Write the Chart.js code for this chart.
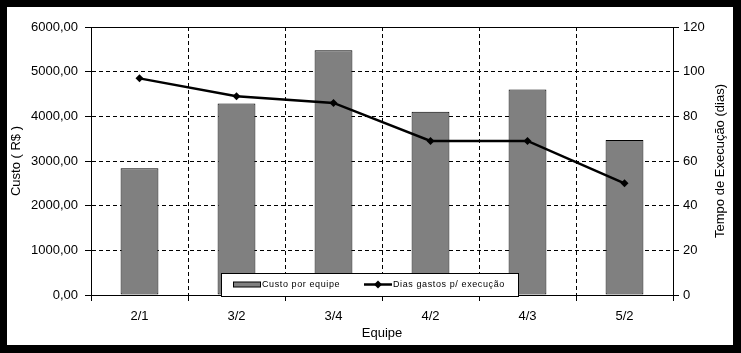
<!DOCTYPE html>
<html>
<head>
<meta charset="utf-8">
<script src="https://cdn.jsdelivr.net/npm/chart.js@4"></script>
<style>
  body { margin: 0; background: #000; }
  #box { position: absolute; left: 7px; top: 7px; width: 726px; height: 338px; background: #fff; }
</style>
</head>
<body>
<div id="box"><canvas id="chart" width="726" height="338"></canvas></div>
<script>
const equipes = ['2/1', '3/2', '3/4', '4/2', '4/3', '5/2'];
const custo = [2840, 4290, 5480, 4100, 4600, 3470];
const dias = [97, 89, 86, 69, 69, 50];
const custoLabel = 'Custo por equipe';
const diasLabel = 'Dias gastos p/ execução';

const fontName = '"Liberation Sans", Arial, sans-serif';

// caixa da legenda dentro do gráfico, e borda de cima
const extras = {
    id: 'extras',
    afterDraw(chart) {
        const ctx = chart.ctx;
        const a = chart.chartArea;
        ctx.save();
        ctx.strokeStyle = '#000';
        ctx.lineWidth = 1;
        ctx.setLineDash([]);
        ctx.beginPath();
        ctx.moveTo(a.left, a.top + 0.5);
        ctx.lineTo(a.right, a.top + 0.5);
        ctx.stroke();

        // titulo do eixo direito (de baixo para cima)
        ctx.fillStyle = '#000';
        ctx.font = '13px ' + fontName;
        ctx.textAlign = 'center';
        ctx.textBaseline = 'middle';
        ctx.save();
        ctx.translate(713, (a.top + a.bottom) / 2);
        ctx.rotate(-Math.PI / 2);
        ctx.fillText('Tempo de Execução (dias)', 0, 0);
        ctx.restore();

        // legenda
        const lx = 214.5, ly = 266.5, lw = 297, lh = 23;
        ctx.fillStyle = '#fff';
        ctx.fillRect(lx, ly, lw, lh);
        ctx.strokeRect(lx, ly, lw, lh);
        const cy = ly + 11;
        ctx.fillStyle = '#808080';
        ctx.fillRect(226.5, cy - 2.5, 27, 5);
        ctx.strokeRect(226.5, cy - 2.5, 27, 5);
        ctx.lineWidth = 2.5;
        ctx.beginPath();
        ctx.moveTo(357, cy);
        ctx.lineTo(385, cy);
        ctx.stroke();
        ctx.fillStyle = '#000';
        ctx.beginPath();
        ctx.moveTo(371, cy - 4);
        ctx.lineTo(375, cy);
        ctx.lineTo(371, cy + 4);
        ctx.lineTo(367, cy);
        ctx.closePath();
        ctx.fill();
        ctx.font = '9px ' + fontName;
        ctx.letterSpacing = '0.6px';
        ctx.textAlign = 'left';
        ctx.fillText(custoLabel, 255, cy);
        ctx.fillText(diasLabel, 386, cy);
        ctx.restore();
    }
};

const chart = new Chart(document.getElementById('chart'), {
    type: 'bar',
    data: {
        labels: equipes,
        datasets: [{
            type: 'line',
            label: diasLabel,
            data: dias,
            yAxisID: 'y1',
            borderColor: '#000',
            backgroundColor: '#000',
            borderWidth: 2.5,
            pointStyle: 'rectRot',
            pointRadius: 4,
            pointBorderWidth: 0,
            tension: 0,
            order: 0
        }, {
            label: custoLabel,
            data: custo,
            yAxisID: 'y',
            backgroundColor: '#808080',
            borderColor: '#000',
            borderWidth: 1,
            borderSkipped: false,
            categoryPercentage: 1,
            barPercentage: 0.39,
            order: 1
        }]
    },
    options: {
        responsive: false,
        animation: false,
        layout: { padding: { top: 20 } },
        plugins: {
            legend: { display: false },
            tooltip: { enabled: false }
        },
        scales: {
            x: {
                grid: { color: '#000', tickLength: 6, tickBorderDash: [] },
                border: { color: '#000', dash: [4, 3] },
                ticks: { color: '#000', font: { family: fontName, size: 13 }, padding: 8 },
                title: { display: true, text: 'Equipe', color: '#000', font: { family: fontName, size: 13 }, padding: { top: 0, bottom: 4 } },
                afterFit(s) { s.height = 50; }
            },
            y: {
                position: 'left',
                min: 0,
                max: 6000,
                grid: { color: '#000', tickLength: 6, tickBorderDash: [] },
                border: { color: '#000', dash: [4, 3] },
                ticks: {
                    stepSize: 1000,
                    color: '#000',
                    font: { family: fontName, size: 13 },
                    padding: 7,
                    callback: v => v.toFixed(2).replace('.', ',')
                },
                title: { display: true, text: 'Custo ( R$ )', color: '#000', font: { family: fontName, size: 13 }, padding: { top: 2, bottom: 0 } },
                afterFit(s) { s.width = 84; }
            },
            y1: {
                position: 'right',
                min: 0,
                max: 120,
                grid: { color: '#000', tickLength: 6, drawOnChartArea: false },
                border: { color: '#000' },
                ticks: { stepSize: 20, color: '#000', font: { family: fontName, size: 13 }, padding: 4 },
                afterFit(s) { s.width = 60; }
            }
        }
    },
    plugins: [extras]
});
</script>
</body>
</html>
